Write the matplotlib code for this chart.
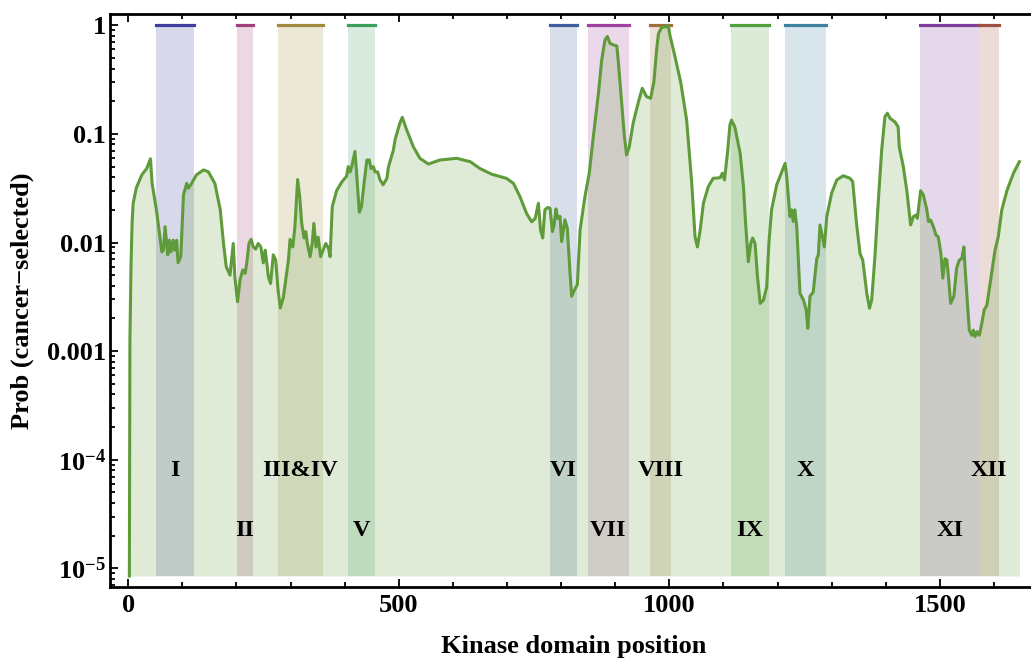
import numpy as np
import matplotlib
matplotlib.use('Agg')
import matplotlib.pyplot as plt
from matplotlib.ticker import MultipleLocator, LogLocator, FixedLocator, FixedFormatter, NullFormatter

plt.rcParams['font.family'] = ['Liberation Serif', 'DejaVu Serif']
plt.rcParams['font.weight'] = 'bold'
plt.rcParams['mathtext.fontset'] = 'custom'
plt.rcParams['mathtext.rm'] = 'Liberation Serif:bold'
plt.rcParams['mathtext.bf'] = 'Liberation Serif:bold'

# curve: position along kinase domain, probability of cancer selection
position = [2, 3, 5, 7, 9, 15, 25, 34, 41, 44, 52, 62, 65, 68, 73, 76, 79, 83, 86, 89.5,
            92, 97, 102, 108, 111, 117, 126, 139, 148, 160, 170, 176, 181, 188, 194, 197,
            202, 206.5, 211.5, 216, 219, 223, 227, 231, 235.5, 240, 245, 249.5, 253, 256,
            259, 263, 268, 272.5, 277, 281, 286.5, 296, 299, 304, 308, 313, 317, 320.5,
            325, 328, 331, 336, 340, 343, 347, 351, 355.5, 360, 365, 370, 373, 377, 385,
            394.5, 403.5, 406.5, 410, 413, 419, 422, 427, 431, 436, 441, 445.5, 448.5, 453,
            456, 461, 465, 471, 478, 481, 490, 493, 502, 506.5, 514.5, 527, 539, 554.5,
            576, 607, 632, 650, 672, 699, 712, 724, 736, 745.5, 752, 758, 762, 766, 770,
            775, 779.5, 784, 787, 790.5, 794, 798, 801, 807, 811.5, 816.5, 819.5, 824,
            830, 835, 844, 852, 859.5, 869, 875, 881, 885.5, 890.5, 896.5, 903, 906, 912,
            917, 921, 926, 933, 943, 950, 958, 965.5, 971.5, 976.5, 980, 986, 995, 998,
            1001, 1010.5, 1021, 1032, 1041.5, 1047.5, 1052, 1057, 1063, 1072, 1081, 1094,
            1098, 1102, 1108, 1112, 1115, 1121, 1131, 1137, 1141, 1146, 1150.5, 1154,
            1158.5, 1163, 1168, 1174, 1180, 1184, 1189, 1198.5, 1208, 1214, 1217, 1223,
            1226, 1229, 1232, 1235.5, 1241.5, 1248, 1253, 1256, 1260, 1266, 1272.5, 1275.5,
            1278.5, 1283, 1286.5, 1291, 1300, 1309.5, 1321.5, 1334, 1339, 1346, 1352.5,
            1357.5, 1365, 1370, 1374, 1380, 1386, 1392.5, 1398.5, 1403, 1408, 1417, 1423,
            1425, 1432.5, 1439, 1446, 1451, 1456, 1458.5, 1464.5, 1469.5, 1476, 1479, 1483,
            1488, 1493, 1497, 1502, 1505.5, 1509.5, 1513, 1516, 1520, 1526, 1531, 1536,
            1540.5, 1544.5, 1546.5, 1551, 1554.5, 1559, 1562, 1565, 1569, 1573, 1577.5,
            1582, 1587, 1593, 1602, 1608, 1614.5, 1624, 1636, 1647]
prob = [8.5e-6, 0.00126, 0.006, 0.015, 0.023, 0.032, 0.042, 0.048, 0.059, 0.035, 0.020,
        0.0082, 0.0085, 0.014, 0.0077, 0.0105, 0.0082, 0.0105, 0.0085, 0.0105,
        0.0065, 0.0074, 0.0275, 0.035, 0.0316, 0.035, 0.042, 0.0466, 0.0448, 0.035,
        0.020, 0.0098, 0.006, 0.005, 0.0098, 0.0048,
        0.00285, 0.0045, 0.0056, 0.0052, 0.0065, 0.0098, 0.0107, 0.0091, 0.0087, 0.0098,
        0.0091, 0.0065, 0.0085, 0.0065,
        0.0048, 0.0042, 0.0077, 0.0069, 0.0036, 0.0025, 0.0031, 0.0069, 0.0107, 0.0091,
        0.014, 0.038, 0.026, 0.015,
        0.011, 0.0126, 0.0098, 0.0074, 0.0098, 0.015, 0.0091, 0.0112, 0.0074, 0.0085,
        0.0098, 0.0089, 0.0074, 0.0214, 0.030,
        0.036, 0.0407, 0.050, 0.0447, 0.050, 0.069, 0.0436, 0.019, 0.0214, 0.036, 0.0575,
        0.0575, 0.048, 0.050,
        0.0447, 0.0447, 0.038, 0.034, 0.039, 0.050, 0.071, 0.088, 0.126, 0.142, 0.109,
        0.076, 0.0596, 0.0528,
        0.0575, 0.0596, 0.0555, 0.048, 0.0425, 0.039, 0.035, 0.0264, 0.0186, 0.0155,
        0.0166, 0.023, 0.013, 0.011, 0.020,
        0.021, 0.0207, 0.0126, 0.0145, 0.0204, 0.0166, 0.0174, 0.0102, 0.0162, 0.0135,
        0.0052, 0.0032, 0.0036,
        0.0041, 0.013, 0.0264, 0.0434, 0.094, 0.237, 0.48, 0.73, 0.79, 0.68, 0.66, 0.645,
        0.447, 0.19,
        0.094, 0.064, 0.076, 0.125, 0.198, 0.263, 0.22, 0.213, 0.303, 0.593, 0.84, 0.96,
        0.97, 1.0,
        0.815, 0.514, 0.30, 0.134, 0.035, 0.0113, 0.0091, 0.013, 0.023, 0.0327, 0.039,
        0.0395,
        0.0434, 0.0377, 0.071, 0.121, 0.134, 0.116, 0.066, 0.0327, 0.015, 0.00665, 0.0098,
        0.011,
        0.0098, 0.0048, 0.00275, 0.00295, 0.0039, 0.0098, 0.020, 0.034, 0.0449, 0.0536,
        0.0404, 0.0173,
        0.020, 0.0156, 0.020, 0.014, 0.0034, 0.00295, 0.0024, 0.00162, 0.0032, 0.0035,
        0.0071, 0.0077,
        0.0145, 0.0113, 0.0091, 0.0173, 0.0284, 0.0377, 0.0412, 0.039, 0.0363, 0.015,
        0.0079,
        0.0069, 0.0034, 0.00248, 0.00295, 0.0074, 0.023, 0.071, 0.144, 0.155, 0.139, 0.129,
        0.116,
        0.076, 0.050, 0.030, 0.0145, 0.0173, 0.0179, 0.0167, 0.030, 0.0274, 0.020, 0.0156,
        0.0161,
        0.014, 0.0117, 0.0113, 0.0079, 0.0047, 0.0071, 0.0069, 0.0048, 0.00275, 0.0032,
        0.0058, 0.0069,
        0.0071, 0.0091, 0.006, 0.00275, 0.00156, 0.0014, 0.00156, 0.00136, 0.00151, 0.0014,
        0.0018,
        0.0024, 0.00265, 0.0042, 0.0085, 0.0113, 0.020, 0.030, 0.0434, 0.0555]

# kinase subdomains
domain_names = ['I', 'II', 'III&IV', 'V', 'VI', 'VII', 'VIII', 'IX', 'X', 'XI', 'XII']
domain_start = [51, 201, 276, 406, 780, 850, 964, 1114, 1214, 1464, 1573]
domain_end = [121, 230, 360, 456, 829, 925, 1003, 1184, 1289, 1573, 1609]
domain_colors = ['#3f3f9f', '#a0407a', '#a08c40', '#3c9f5e', '#3f5f9f', '#9f3f9f',
                 '#a0703c', '#4f9f3f', '#3f7f9f', '#7f3f9f', '#a0503f']

line_color = '#5f9b3a'
base = 8.5e-6

fig = plt.figure(figsize=(10.31, 6.6), dpi=100)
ax = fig.add_axes([110 / 1031, 73.3 / 660, 921 / 1031, 572.7 / 660])

for a, b, c in zip(domain_start, domain_end, domain_colors):
    ax.fill_between([a, b], base, 1, color=c, alpha=0.2, lw=0)
    ax.plot([a, b], [1, 1], color=c, lw=2.3, solid_capstyle='projecting')

ax.fill_between(position, base, prob, color=line_color, alpha=0.2, lw=0)
ax.plot(position, prob, color=line_color, lw=2.2)

for i, (name, a, b) in enumerate(zip(domain_names, domain_start, domain_end)):
    y = 8e-5 if i % 2 == 0 else 2.25e-5
    ax.text((a + b) / 2, y, name, ha='center', va='center', fontsize=17.5,
            fontweight='bold')

ax.set_yscale('log')
ax.set_xlim(-33.8, 1668.5)
ax.set_ylim(10 ** -5.169, 10 ** 0.104)

yt = [1e-5, 1e-4, 1e-3, 1e-2, 1e-1, 1]
ax.yaxis.set_major_locator(FixedLocator(yt))
ax.yaxis.set_major_formatter(FixedFormatter([r'$\mathbf{10^{-5}}$', r'$\mathbf{10^{-4}}$',
                                             '0.001', '0.01', '0.1', '1']))
ax.yaxis.set_minor_locator(LogLocator(base=10, subs=np.arange(2, 10)))
ax.yaxis.set_minor_formatter(NullFormatter())
ax.xaxis.set_major_locator(MultipleLocator(500))
ax.xaxis.set_minor_locator(MultipleLocator(100))

ax.tick_params(which='both', direction='in', top=True, right=False, width=1.3,
               labelsize=19)
ax.tick_params(which='major', length=6)
ax.tick_params(which='minor', length=3.5)
ax.tick_params(axis='x', pad=5)
ax.tick_params(axis='y', pad=3)
for lab in ax.get_xticklabels() + ax.get_yticklabels():
    lab.set_fontweight('bold')

for s in ['left', 'bottom', 'top']:
    ax.spines[s].set_linewidth(2)
ax.spines['right'].set_visible(False)

ax.set_xlabel('Kinase domain position', fontsize=19, fontweight='bold', va='center')
ax.set_ylabel('Prob (cancer\u2212selected)', fontsize=19, fontweight='bold', va='center')
ax.xaxis.set_label_coords(0.504, -0.105)
ax.yaxis.set_label_coords(-0.0955, 0.5)

fig.savefig('out.png', dpi=100)
